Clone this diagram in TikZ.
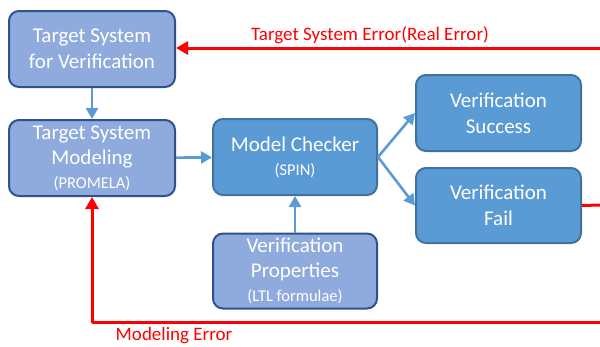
\documentclass[tikz,border=0pt]{standalone}
\usepackage{fontspec}
\setmainfont{Carlito}
\usetikzlibrary{arrows.meta}
\definecolor{lightfill}{HTML}{8FAADC}
\definecolor{lightedge}{HTML}{2F528F}
\definecolor{midfill}{HTML}{5B9BD5}
\definecolor{midedge}{HTML}{41719C}
\definecolor{errred}{HTML}{FF0000}
\tikzset{
  lightbox/.style={draw=lightedge,fill=lightfill,line width=2pt,rounded corners=10pt,
    text=white,align=center,inner sep=1pt,font=\fontsize{21}{26}\selectfont},
  midbox/.style={draw=midedge,fill=midfill,line width=2pt,rounded corners=10pt,
    text=white,align=center,inner sep=1pt,font=\fontsize{21}{26}\selectfont},
  flow/.style={->,draw=midfill,line width=2.6pt,>={Triangle[length=11pt,width=12pt]}},
  errflow/.style={->,draw=errred,line width=3pt,>={Triangle[length=12pt,width=13pt]}},
  errlabel/.style={text=errred,font=\fontsize{19}{21}\selectfont},
}
\newcommand{\sub}[1]{\\[-2pt]{\fontsize{16.5}{18}\selectfont #1}}
\begin{document}
\begin{tikzpicture}[x=1pt,y=-1pt,line cap=butt,line join=round]
\useasboundingbox (0,0) rectangle (600,346);
\node[lightbox,minimum width=166pt,minimum height=76pt] (tsv) at (92,49) {Target System\\for Verification};
\node[lightbox,minimum width=166pt,minimum height=76pt] (tsm) at (92,158) {Target System\\[-1pt]Modeling\sub{(PROMELA)}};
\node[midbox,minimum width=164pt,minimum height=76pt] (checker) at (295,157) {Model Checker\sub{(SPIN)}};
\node[lightbox,minimum width=164pt,minimum height=75pt] (props) at (295,271) {Verification\\[-1pt]Properties\sub{(LTL formulae)}};
\node[midbox,minimum width=165pt,minimum height=76pt] (success) at (498.5,113) {Verification\\Success};
\node[midbox,minimum width=165pt,minimum height=75pt] (fail) at (498.5,205.5) {Verification\\Fail};
\coordinate (topR) at (600,48);
\coordinate (failR) at (600,205);
\coordinate (botR) at (600,322);
\coordinate (botL) at (92,322);
% blue flow
\draw[flow] (tsv) -- (tsm);
\draw[flow] (tsm) -- (checker);
\draw[flow] (props) -- (checker);
\draw[flow] (checker.east) -- (success.west);
\draw[flow] (checker.east) -- (fail.west);
% red feedback
\draw[errred,line width=3pt] (fail.east) -- (failR);
\draw[errflow] (topR) -- (tsv.east |- topR);
\draw[errflow] (botR) -- (botL) -- (tsm.south);
\node[errlabel] (realerr) at (370,35) {Target System Error(Real Error)};
\node[errlabel] (modelerr) at (174,336) {Modeling Error};
\end{tikzpicture}
\end{document}
